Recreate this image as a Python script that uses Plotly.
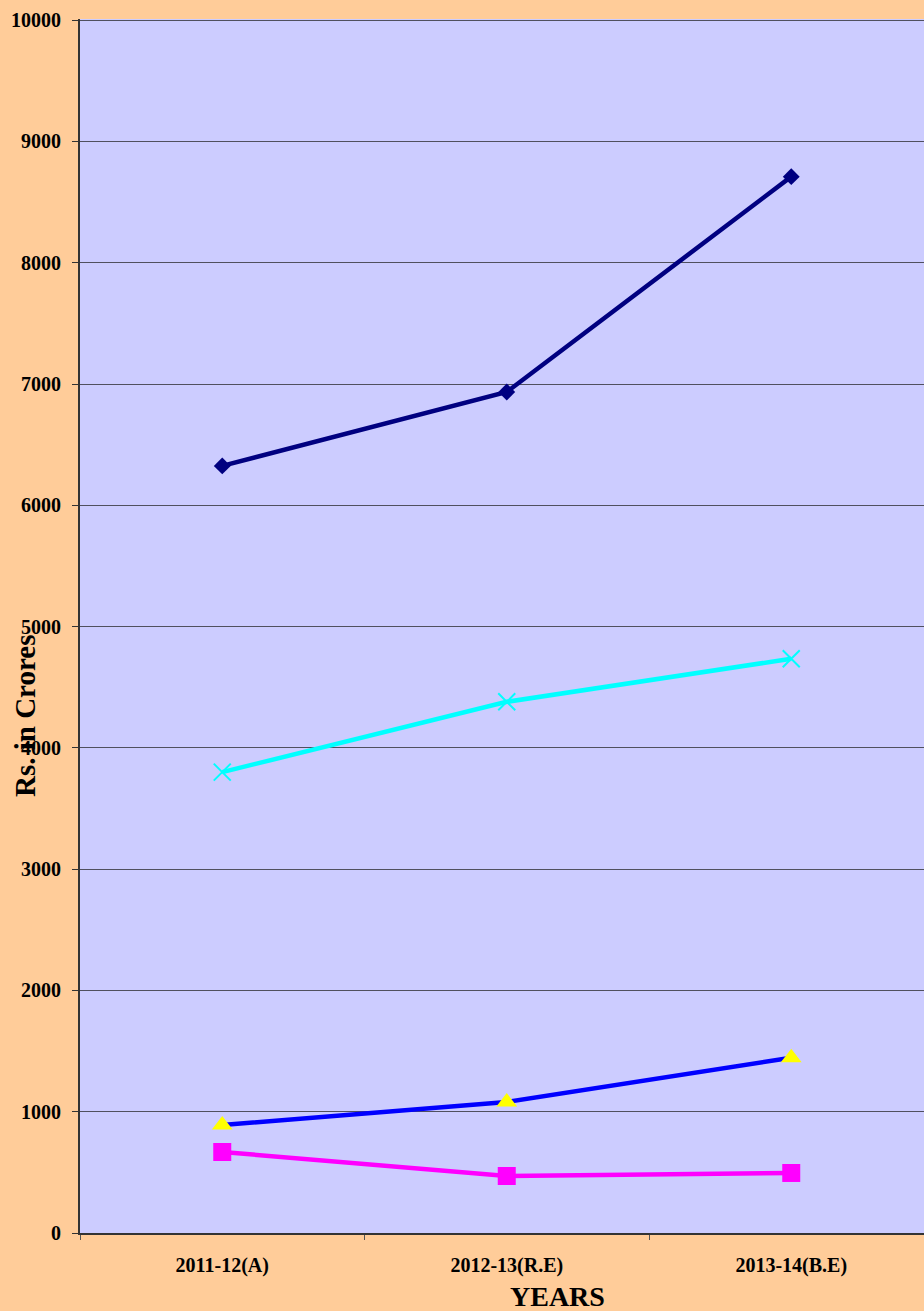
import plotly.graph_objects as go

years = ["2011-12(A)", "2012-13(R.E)", "2013-14(B.E)"]
series_navy = [6325, 6935, 8710]
series_cyan = [3800, 4380, 4735]
series_blue = [890, 1080, 1445]
series_magenta = [668, 470, 495]
y_ticks = [0, 1000, 2000, 3000, 4000, 5000, 6000, 7000, 8000, 9000, 10000]

FONT = "Liberation Serif"

fig = go.Figure()
fig.add_trace(go.Scatter(x=years, y=series_navy, mode="lines+markers",
                         line=dict(color="#000080", width=4.5),
                         marker=dict(symbol="diamond", size=13, color="#000080")))
fig.add_trace(go.Scatter(x=years, y=series_magenta, mode="lines+markers",
                         line=dict(color="#FF00FF", width=4.5),
                         marker=dict(symbol="square", size=18, color="#FF00FF")))
fig.add_trace(go.Scatter(x=years, y=series_blue, mode="lines+markers",
                         line=dict(color="#0000FF", width=4.5),
                         marker=dict(symbol="triangle-up", size=18, color="#FFFF00")))
fig.add_trace(go.Scatter(x=years, y=series_cyan, mode="lines+markers",
                         line=dict(color="#00FFFF", width=4.5),
                         marker=dict(symbol="x-thin", size=17,
                                     line=dict(color="#00FFFF", width=2))))

fig.update_layout(
    width=924, height=1311,
    margin=dict(l=80, r=0, t=19, b=78),
    paper_bgcolor="#FFCC99", plot_bgcolor="#CCCCFF",
    showlegend=False,
    xaxis=dict(type="category", range=[-0.5, 2.4666],
               showgrid=False, showline=True, linecolor="#333333", linewidth=2,
               ticks="outside", tickson="boundaries", ticklen=5, tickcolor="#555555",
               tickfont=dict(family=FONT, size=20, color="black", weight="bold"),
               ticklabelstandoff=13),
    yaxis=dict(range=[0, 10010], tickvals=y_ticks, ticktext=[str(v) for v in y_ticks],
               showgrid=True, gridcolor="#50505e", gridwidth=1.3,
               showline=True, linecolor="#333333", linewidth=2,
               ticks="outside", ticklen=6, tickcolor="#333333",
               zeroline=False,
               tickfont=dict(family=FONT, size=20, color="black", weight="bold"),
               ticklabelstandoff=7),
)

pw, ph = 844, 1214
fig.add_annotation(text="Rs. in Crores", xref="paper", yref="paper",
                   x=(25 - 80) / pw, y=(1233 - 716) / ph,
                   xanchor="center", yanchor="middle", showarrow=False, textangle=-90,
                   font=dict(family=FONT, size=29, color="black", weight="bold"))
fig.add_annotation(text="YEARS", xref="paper", yref="paper",
                   x=(557 - 80) / pw, y=(1233 - 1296) / ph,
                   xanchor="center", yanchor="middle", showarrow=False,
                   font=dict(family=FONT, size=28, color="black", weight="bold"))

fig.write_html("out.html", config={"displayModeBar": False},
               post_script="document.body.style.margin='0';document.body.style.padding='0';")
